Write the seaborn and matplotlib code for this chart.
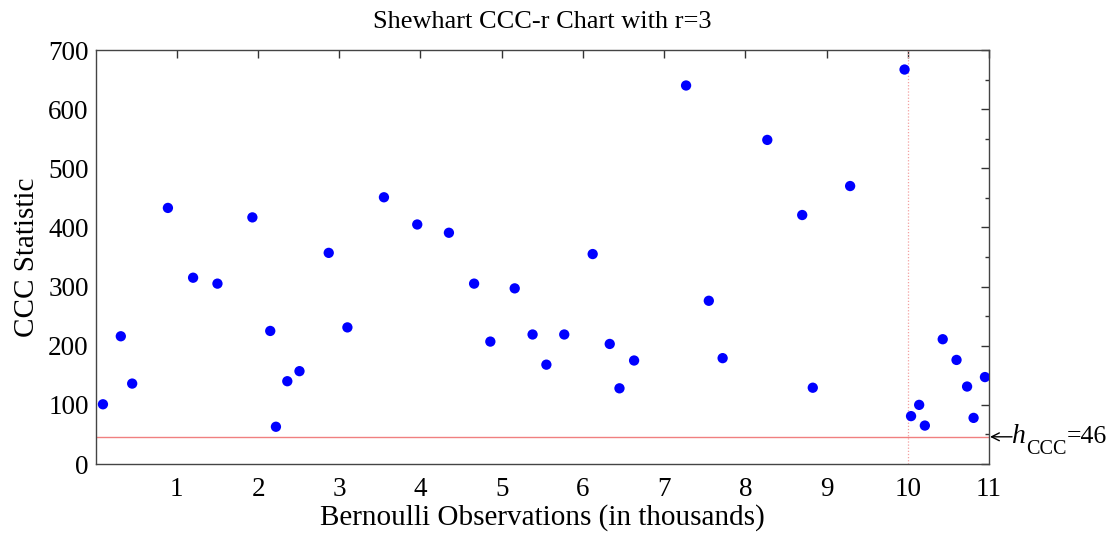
import numpy as np
import pandas as pd
import matplotlib
matplotlib.use("Agg")
import matplotlib.pyplot as plt
import matplotlib.transforms as mtransforms
from matplotlib.ticker import MultipleLocator
import seaborn as sns

# Data (x in thousands of Bernoulli observations, y = CCC statistic)
obs_thousands = [0.09, 0.31, 0.45, 0.89, 1.20, 1.50, 1.93, 2.15, 2.22, 2.36,
                 2.51, 2.87, 3.10, 3.55, 3.96, 4.35, 4.66, 4.86, 5.16, 5.38,
                 5.55, 5.77, 6.12, 6.33, 6.45, 6.63, 7.27, 7.55, 7.72, 8.27,
                 8.70, 8.83, 9.29, 9.96, 10.04, 10.14, 10.21, 10.43, 10.60,
                 10.73, 10.81, 10.95]
ccc_stat = [101, 216, 136, 433, 315, 305, 417, 225, 63, 140,
            157, 357, 231, 451, 405, 391, 305, 207, 297, 219,
            168, 219, 355, 203, 128, 175, 640, 276, 179, 548,
            421, 129, 470, 667, 81, 100, 65, 211, 176,
            131, 78, 147]
h_ccc = 46
change_point = 10
x_ticks = [1, 2, 3, 4, 5, 6, 7, 8, 9, 10, 11]
y_ticks = [0, 100, 200, 300, 400, 500, 600, 700]

df = pd.DataFrame({"x": obs_thousands, "y": ccc_stat})

sns.set_theme(style="white")
plt.rcParams["font.family"] = ["Liberation Serif", "DejaVu Serif"]
plt.rcParams["mathtext.fontset"] = "stix"

fig = plt.figure(figsize=(11.12, 5.36), dpi=100)
ax = fig.add_axes([0.0860, 0.1343, 0.8034, 0.7724])

ax.axhline(h_ccc, color="#f08080", lw=1.0, zorder=1)
ax.axvline(change_point, color="#f4a0a0", lw=0.9, ls=(0, (1, 1.5)), zorder=1)

sns.scatterplot(data=df, x="x", y="y", ax=ax, color="#0000ff", s=55,
                edgecolor="none", zorder=3, legend=False)

ax.set_xlim(0, 11)
ax.set_ylim(0, 700)
ax.set_xticks(x_ticks)
ax.set_yticks(y_ticks)
ax.yaxis.set_minor_locator(MultipleLocator(50))
ax.tick_params(axis="both", which="both", direction="in", top=True, right=True,
               width=1.0, color="#333333", labelsize=19.5, labelcolor="black")
ax.tick_params(axis="both", which="major", length=6)
ax.tick_params(axis="y", which="minor", length=3)
ax.tick_params(axis="x", which="major", pad=9)
ax.tick_params(axis="y", which="major", pad=5)
for s in ax.spines.values():
    s.set_color("#444444")
    s.set_linewidth(1.0)

ax.set_xlabel("Bernoulli Observations (in thousands)", fontsize=21, labelpad=2,
              color="black")
ax.set_ylabel("CCC Statistic", fontsize=21, labelpad=6, color="black")
ax.set_title("Shewhart CCC-r Chart with r=3", fontsize=19, pad=16,
             color="black")

# Threshold annotation: arrow + h_CCC=46
def off(dx, dy):
    return mtransforms.offset_copy(ax.transData, fig=fig, x=dx, y=dy, units="dots")

ax.annotate("", xy=(11.0, h_ccc), xycoords=off(1, 0),
            xytext=(11.0, h_ccc), textcoords=off(23, 0),
            arrowprops=dict(arrowstyle="->", color="black", lw=1.0,
                            shrinkA=0, shrinkB=0, mutation_scale=14),
            annotation_clip=False)
ax.text(11.0, h_ccc, "h", fontsize=20, style="italic", va="baseline", ha="left",
        transform=off(23, -6), clip_on=False, color="black")
ax.text(11.0, h_ccc, "CCC", fontsize=14.5, va="baseline", ha="left",
        transform=off(37, -17), clip_on=False, color="black")
ax.text(11.0, h_ccc, "=46", fontsize=18.5, va="baseline", ha="left",
        transform=off(78, -6), clip_on=False, color="black")

fig.savefig("out.png", dpi=100)
